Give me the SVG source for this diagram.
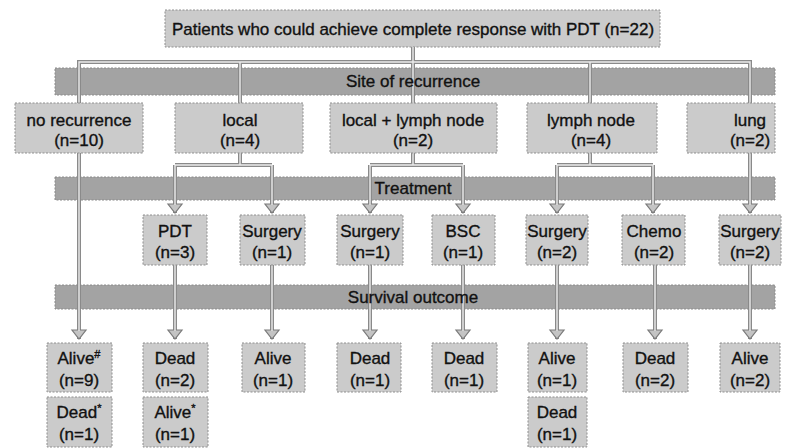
<svg xmlns="http://www.w3.org/2000/svg" width="803" height="448" viewBox="0 0 803 448">
<defs>
<style>
.box{fill:#cbcbcb;stroke:#8f8f8f;stroke-width:1;stroke-dasharray:2 1.5}
.bar{fill:#a3a3a3;stroke:#8a8a8a;stroke-width:1;stroke-dasharray:2 1.5}
text{font-family:"Liberation Sans",Arial,sans-serif;font-size:17px;fill:#111;stroke:#111;stroke-width:0.35;text-anchor:middle}
.c{fill:none;stroke:#8a8a8a;stroke-width:4}
.ci{fill:none;stroke:#ececec;stroke-width:1.4}
.sup{font-size:11px}
</style>
<marker id="ah" markerUnits="userSpaceOnUse" markerWidth="18" markerHeight="14" viewBox="-9 -12 18 14" refX="0" refY="0" orient="0" overflow="visible">
<polygon points="-7,-9 7,-9 0,0" fill="#c4c4c4" stroke="#7a7a7a" stroke-width="1.2"/>
</marker>
</defs>
<rect width="803" height="448" fill="#ffffff"/>

<g id="title">
<rect class="box" x="165" y="10" width="495" height="37"/>
<text x="413" y="35">Patients who could achieve complete response with PDT (n=22)</text>
</g>

<g id="bar-site">
<rect class="bar" x="55" y="68" width="720" height="27"/>
</g>
<g id="bar-treatment">
<rect class="bar" x="55" y="177" width="720" height="23"/>
</g>
<g id="bar-survival">
<rect class="bar" x="55" y="285" width="720" height="24"/>
</g>

<g id="connectors">
<path class="c" d="M413,47 V62 M79,103 V62 H750 V103 M240,62 V103 M413,62 V103 M590,62 V103"/>
<path class="c" d="M240,153 V165 M175,165 H272 M413,153 V165 M370,165 H463 M590,153 V165 M557,165 H653"/>
<path class="c" marker-end="url(#ah)" d="M175,165 V213"/>
<path class="c" marker-end="url(#ah)" d="M272,165 V213"/>
<path class="c" marker-end="url(#ah)" d="M370,165 V213"/>
<path class="c" marker-end="url(#ah)" d="M463,165 V213"/>
<path class="c" marker-end="url(#ah)" d="M557,165 V213"/>
<path class="c" marker-end="url(#ah)" d="M653,165 V213"/>
<path class="c" marker-end="url(#ah)" d="M750,153 V213"/>
<path class="c" marker-end="url(#ah)" d="M79,153 V339"/>
<path class="c" marker-end="url(#ah)" d="M175,265 V339"/>
<path class="c" marker-end="url(#ah)" d="M272,265 V339"/>
<path class="c" marker-end="url(#ah)" d="M370,265 V339"/>
<path class="c" marker-end="url(#ah)" d="M463,265 V339"/>
<path class="c" marker-end="url(#ah)" d="M557,265 V339"/>
<path class="c" marker-end="url(#ah)" d="M655,265 V339"/>
<path class="c" marker-end="url(#ah)" d="M750,265 V339"/>
<path class="ci" d="M413,47 V62 M79,103 V62 H750 V103 M240,62 V103 M413,62 V103 M590,62 V103 M240,153 V165 M175,165 H272 M413,153 V165 M370,165 H463 M590,153 V165 M557,165 H653 M175,165 V205 M272,165 V205 M370,165 V205 M463,165 V205 M557,165 V205 M653,165 V205 M750,153 V205 M79,153 V331 M175,265 V331 M272,265 V331 M370,265 V331 M463,265 V331 M557,265 V331 M655,265 V331 M750,265 V331"/>
</g>

<g id="bar-site-label"><text x="413" y="87">Site of recurrence</text></g>
<g id="bar-treatment-label"><text x="413" y="194">Treatment</text></g>
<g id="bar-survival-label"><text x="413" y="303">Survival outcome</text></g>

<g id="no-recurrence">
<rect class="box" x="15" y="103" width="128" height="50"/>
<text x="79" y="126">no recurrence</text><text x="79" y="146">(n=10)</text>
</g>
<g id="local">
<rect class="box" x="175" y="103" width="128" height="50"/>
<text x="240" y="126">local</text><text x="240" y="146">(n=4)</text>
</g>
<g id="local-lymph">
<rect class="box" x="330" y="103" width="167" height="50"/>
<text x="413" y="126">local + lymph node</text><text x="413" y="146">(n=2)</text>
</g>
<g id="lymph-node">
<rect class="box" x="527" y="103" width="130" height="50"/>
<text x="591" y="126">lymph node</text><text x="591" y="146">(n=4)</text>
</g>
<g id="lung">
<rect class="box" x="687" y="103" width="88" height="50"/>
<text x="750" y="126">lung</text><text x="750" y="146">(n=2)</text>
</g>

<g id="t-pdt">
<rect class="box" x="143" y="215" width="64" height="50"/>
<text x="175" y="237">PDT</text><text x="175" y="258">(n=3)</text>
</g>
<g id="t-surgery1">
<rect class="box" x="240" y="215" width="65" height="50"/>
<text x="272" y="237">Surgery</text><text x="272" y="258">(n=1)</text>
</g>
<g id="t-surgery2">
<rect class="box" x="337" y="215" width="66" height="50"/>
<text x="370" y="237">Surgery</text><text x="370" y="258">(n=1)</text>
</g>
<g id="t-bsc">
<rect class="box" x="432" y="215" width="63" height="50"/>
<text x="463" y="237">BSC</text><text x="463" y="258">(n=1)</text>
</g>
<g id="t-surgery3">
<rect class="box" x="526" y="215" width="62" height="50"/>
<text x="557" y="237">Surgery</text><text x="557" y="258">(n=2)</text>
</g>
<g id="t-chemo">
<rect class="box" x="622" y="215" width="63" height="50"/>
<text x="654" y="237">Chemo</text><text x="654" y="258">(n=2)</text>
</g>
<g id="t-surgery4">
<rect class="box" x="719" y="215" width="62" height="50"/>
<text x="750" y="237">Surgery</text><text x="750" y="258">(n=2)</text>
</g>

<g id="o-alive9">
<rect class="box" x="47" y="343" width="65" height="49"/>
<text x="79" y="364">Alive<tspan class="sup" dy="-6">#</tspan></text><text x="79" y="386">(n=9)</text>
</g>
<g id="o-dead1a">
<rect class="box" x="47" y="397" width="65" height="50"/>
<text x="79" y="418">Dead<tspan class="sup" dy="-6">*</tspan></text><text x="79" y="440">(n=1)</text>
</g>
<g id="o-dead2">
<rect class="box" x="143" y="343" width="65" height="49"/>
<text x="175" y="364">Dead</text><text x="175" y="386">(n=2)</text>
</g>
<g id="o-alive1a">
<rect class="box" x="143" y="397" width="65" height="50"/>
<text x="175" y="418">Alive<tspan class="sup" dy="-6">*</tspan></text><text x="175" y="440">(n=1)</text>
</g>
<g id="o-alive1b">
<rect class="box" x="242" y="343" width="63" height="49"/>
<text x="273" y="364">Alive</text><text x="273" y="386">(n=1)</text>
</g>
<g id="o-dead1b">
<rect class="box" x="337" y="343" width="64" height="49"/>
<text x="370" y="364">Dead</text><text x="370" y="386">(n=1)</text>
</g>
<g id="o-dead1c">
<rect class="box" x="432" y="343" width="65" height="49"/>
<text x="464" y="364">Dead</text><text x="464" y="386">(n=1)</text>
</g>
<g id="o-alive1c">
<rect class="box" x="528" y="343" width="59" height="49"/>
<text x="557" y="364">Alive</text><text x="557" y="386">(n=1)</text>
</g>
<g id="o-dead1d">
<rect class="box" x="528" y="397" width="59" height="50"/>
<text x="557" y="418">Dead</text><text x="557" y="440">(n=1)</text>
</g>
<g id="o-dead2b">
<rect class="box" x="623" y="343" width="65" height="49"/>
<text x="655" y="364">Dead</text><text x="655" y="386">(n=2)</text>
</g>
<g id="o-alive2">
<rect class="box" x="720" y="343" width="60" height="49"/>
<text x="750" y="364">Alive</text><text x="750" y="386">(n=2)</text>
</g>
</svg>
